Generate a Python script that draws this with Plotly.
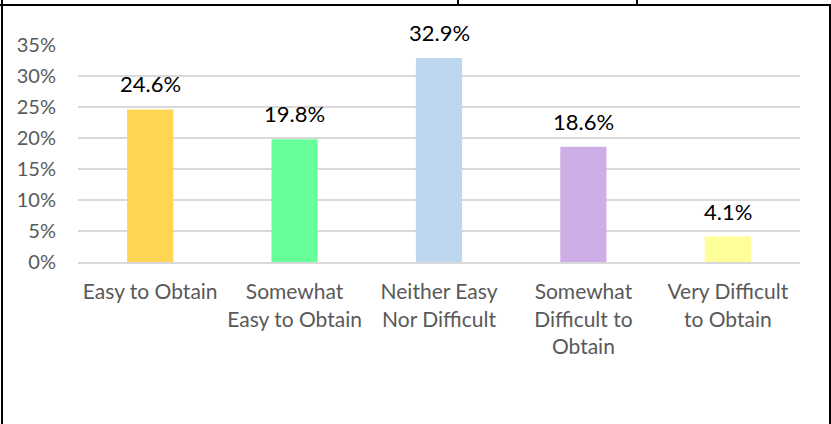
import plotly.graph_objects as go

# Survey response: ease of obtaining
categories = [
    "Easy to Obtain",
    "Somewhat<br>Easy to Obtain",
    "Neither Easy<br>Nor Difficult",
    "Somewhat<br>Difficult to<br>Obtain",
    "Very Difficult<br>to Obtain",
]
shares = [0.246, 0.198, 0.329, 0.186, 0.041]
bar_colors = ["#FFD554", "#66FF99", "#BDD7EE", "#CDAEE6", "#FFFF99"]
y_ticks = [0, 0.05, 0.10, 0.15, 0.20, 0.25, 0.30, 0.35]
y_tick_labels = ["0%", "5%", "10%", "15%", "20%", "25%", "30%", "35%"]

W, H = 831, 424
L, R, T, B = 78, 31, 45, 162
PW, PH = W - L - R, H - T - B
FONT = "Lato, Open Sans, sans-serif"


def px_x(x):
    return (x - L) / PW


def px_y(y):
    return (H - B - y) / PH


fig = go.Figure(
    go.Bar(
        x=categories,
        y=shares,
        marker=dict(color=bar_colors, line=dict(width=0)),
        width=0.32,
        hoverinfo="x+y",
    )
)

# value labels above each bar
for cat, v in zip(categories, shares):
    fig.add_annotation(
        x=cat, y=v, xref="x", yref="y",
        text=f"{v * 100:.1f}%",
        showarrow=False,
        yanchor="bottom",
        yshift=10,
        font=dict(family=FONT, size=22, color="#000000"),
    )

border = dict(color="#000000", width=2)
frame = [
    (2, 0, 2, H),            # left edge
    (830, 5, 830, H),        # right edge
    (0, 5, W, 5),            # top edge
    (458, 0, 458, 5),        # cell divider
    (637, 0, 637, 5),        # cell divider
]
shapes = [
    dict(type="line", xref="paper", yref="paper",
         x0=px_x(x0), y0=px_y(y0), x1=px_x(x1), y1=px_y(y1), line=border)
    for x0, y0, x1, y1 in frame
]

fig.update_layout(
    width=W,
    height=H,
    margin=dict(l=L, r=R, t=T, b=B, pad=0),
    paper_bgcolor="white",
    plot_bgcolor="white",
    showlegend=False,
    font=dict(family=FONT, size=18, color="#595959"),
    shapes=shapes,
    xaxis=dict(
        showline=True,
        linecolor="#D9D9D9",
        linewidth=2,
        ticks="",
        tickangle=0,
        tickfont=dict(size=21, color="#595959"),
        ticklabelstandoff=10,
    ),
    yaxis=dict(
        range=[0, 0.35],
        tickvals=y_ticks,
        ticktext=y_tick_labels,
        showgrid=True,
        gridcolor="#D9D9D9",
        gridwidth=1.5,
        zeroline=False,
        ticks="",
        ticklabelstandoff=21,
        tickfont=dict(size=20, color="#595959"),
    ),
)

fig.write_html("out.html")
